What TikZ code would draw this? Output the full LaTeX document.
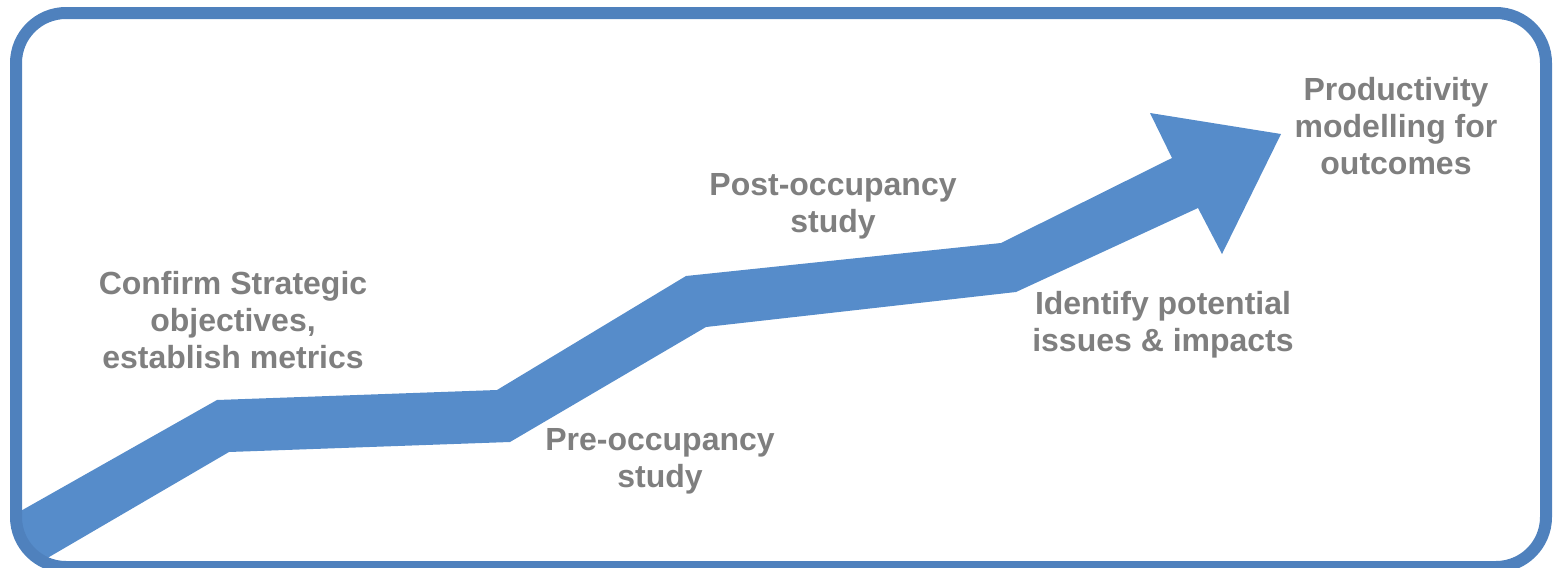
\documentclass[tikz,border=0pt]{standalone}
\usepackage{fontspec}
\setmainfont{Liberation Sans}
\usepackage{tikz}
\usetikzlibrary{positioning}
\definecolor{framblue}{HTML}{4F81BD}
\definecolor{arrowblue}{HTML}{568CCA}
\definecolor{textgray}{HTML}{7F7F7F}
\tikzstyle{steplabel} = [align=center, text=textgray, inner sep=0pt,
                         font=\fontsize{16}{18.6}\selectfont\bfseries]

\begin{document}
\begin{tikzpicture}[x=0.5pt, y=-0.5pt,
    frame/.style={draw=framblue, line width=6pt, rounded corners=25pt},
]
\useasboundingbox (0,0) rectangle (1554,568);

% Rising arrow, kept inside the frame
\begin{scope}
\clip[rounded corners=25pt] (16,13) rectangle (1546,567);
\fill[arrowblue] (-20,534) -- (217,400) -- (497,390) -- (686,276) -- (1001,243)
    -- (1172,158) -- (1150,113) -- (1281,134) -- (1222,254) -- (1198,208)
    -- (1016,292) -- (706,327) -- (510,442) -- (229,452) -- (20,574) -- cycle;
\end{scope}

% Frame
\draw[frame] (16,13) rectangle (1546,567);

% Step labels
\node[steplabel] (confirm) at (233,320) {Confirm Strategic\\objectives,\\establish metrics};
\node[steplabel] (pre) at (660,461) {Pre-occupancy\\study};
\node[steplabel] (post) at (833,206) {Post-occupancy\\study};
\node[steplabel] (issues) at (1163,325) {Identify potential\\issues \& impacts};
\node[steplabel] (model) at (1396,126) {Productivity\\modelling for\\outcomes};

\end{tikzpicture}
\end{document}
